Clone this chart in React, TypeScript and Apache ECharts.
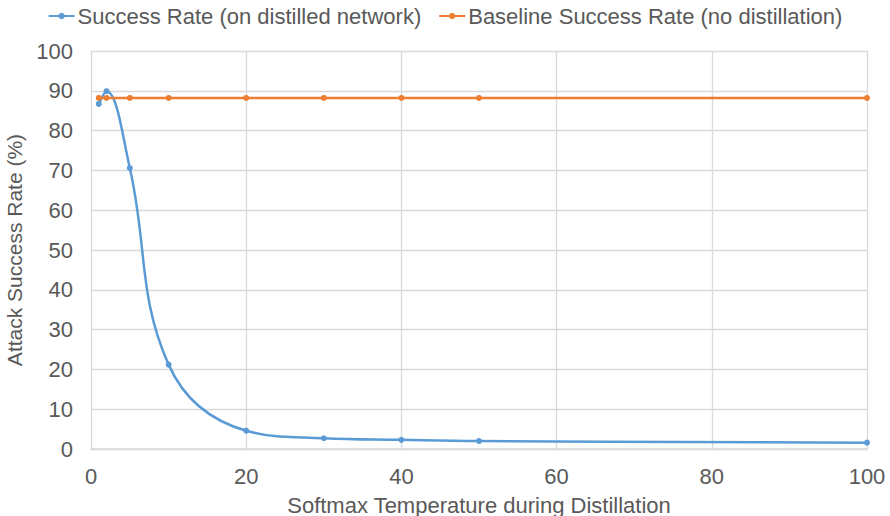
import React, { useEffect, useRef } from "react";
import * as echarts from "echarts";

const temperatures = [1, 2, 5, 10, 20, 30, 40, 50, 100];
const successRate = [86.7, 89.9, 70.6, 21.2, 4.6, 2.7, 2.3, 2.0, 1.6];
const baselineRate = [88.2, 88.2, 88.2, 88.2, 88.2, 88.2, 88.2, 88.2, 88.2];
const seriesNames = ["Success Rate (on distilled network)", "Baseline Success Rate (no distillation)"];

export default function App() {
  const ref = useRef<HTMLDivElement>(null);
  useEffect(() => {
    const chart = echarts.init(ref.current!, null, { renderer: "svg" });
    const font = "Liberation Sans, Arial, sans-serif";
    chart.setOption({
      animation: false,
      textStyle: { fontFamily: font },
      legend: {
        top: 5,
        left: "center",
        padding: 0,
        itemGap: 17,
        itemWidth: 26,
        itemHeight: 8,
        textStyle: { fontSize: 22, color: "#595959", fontFamily: font, padding: [0, 0, 0, -2] },
        data: seriesNames,
      },
      grid: { left: 91, right: 23, top: 51, bottom: 67, outerBoundsMode: "none", containLabel: false },
      xAxis: {
        type: "value",
        min: 0,
        max: 100,
        interval: 20,
        name: "Softmax Temperature during Distillation",
        nameLocation: "middle",
        nameGap: 45,
        nameTextStyle: { fontSize: 22, color: "#595959", fontFamily: font },
        axisLine: { show: true, lineStyle: { color: "#d9d9d9", width: 1.5 } },
        axisTick: { show: false },
        axisLabel: { fontSize: 22, color: "#595959", margin: 16 },
        splitLine: { show: true, lineStyle: { color: "#d9d9d9", width: 1.3 } },
      },
      yAxis: {
        type: "value",
        min: 0,
        max: 100,
        interval: 10,
        name: "Attack Success Rate (%)",
        nameLocation: "middle",
        nameGap: 54,
        nameTextStyle: { fontSize: 21, color: "#595959", fontFamily: font },
        axisLine: { show: false },
        axisTick: { show: false },
        axisLabel: { fontSize: 22, color: "#595959", margin: 18 },
        splitLine: { show: true, lineStyle: { color: "#d9d9d9", width: 1.3 } },
      },
      series: [
        {
          name: seriesNames[0],
          type: "line",
          smooth: 0.4,
          data: temperatures.map((t, i) => [t, successRate[i]]),
          symbol: "circle",
          symbolSize: 6,
          lineStyle: { color: "#5b9bd5", width: 2.5 },
          itemStyle: { color: "#5b9bd5" },
          z: 2,
        },
        {
          name: seriesNames[1],
          type: "line",
          data: temperatures.map((t, i) => [t, baselineRate[i]]),
          symbol: "circle",
          symbolSize: 6,
          lineStyle: { color: "#ed7d31", width: 2.5 },
          itemStyle: { color: "#ed7d31" },
          z: 3,
        },
      ],
    });
    return () => chart.dispose();
  }, []);
  return (
    <div
      ref={ref}
      style={{ position: "absolute", left: 0, top: 0, width: 890, height: 516, background: "#fff" }}
    />
  );
}
